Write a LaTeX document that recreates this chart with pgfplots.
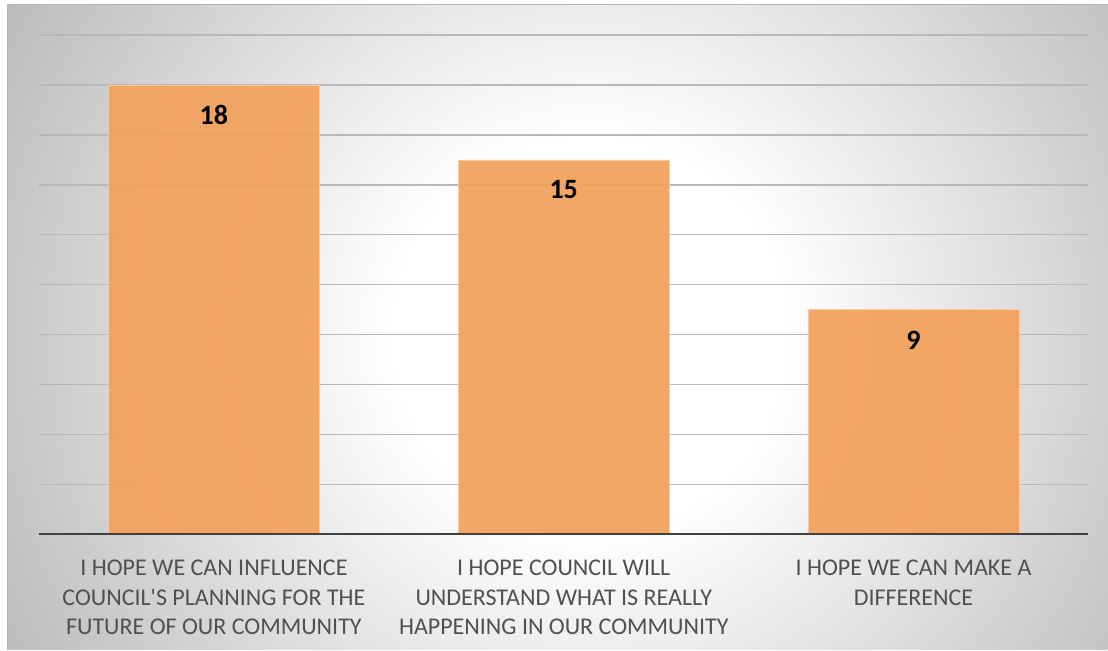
\documentclass[border=0pt]{standalone}
\usepackage{fontspec}
\setmainfont{Carlito}
\usepackage{pgfplots}
\pgfplotsset{compat=1.18}
\definecolor{barorange}{RGB}{243,161,92}
\definecolor{labelgray}{RGB}{80,80,80}
\pgfdeclareradialshading{bgshade}{\pgfpoint{0bp}{0bp}}{color(0bp)=(white); color(7bp)=(white); color(11.4bp)=(black!7); color(19.6bp)=(black!20); color(25bp)=(black!28); color(50bp)=(black!28)}
\begin{document}
\begin{tikzpicture}[x=1pt,y=1pt]
\path (0,0) rectangle (1108,650);
\begin{scope}
\clip (8,0) rectangle (1108,645);
\shade[shading=bgshade] (590,315) circle (700);
\end{scope}
\draw[black!30, line width=1pt] (8,0) -- (8,645) -- (1108,645);
\begin{axis}[
  at={(39pt,115pt)}, anchor=south west,
  scale only axis, width=1050pt, height=500pt,
  xmin=-0.5, xmax=2.5, ymin=0, ymax=20,
  ytick={0,2,...,20}, yticklabels={},
  ymajorgrids, major grid style={black!28, line width=1.2pt},
  axis line style={draw=none},
  major tick length=0pt,
  /pgf/number format/assume math mode=true,
  xtick={0,1,2},
  xticklabels={{I HOPE WE CAN INFLUENCE\\COUNCIL\textquotesingle S PLANNING FOR THE\\FUTURE OF OUR COMMUNITY},
               {I HOPE COUNCIL WILL\\UNDERSTAND WHAT IS REALLY\\HAPPENING IN OUR COMMUNITY},
               {I HOPE WE CAN MAKE A\\DIFFERENCE}},
  xticklabel style={anchor=north, align=center, inner sep=0pt, yshift=-25pt,
     text=labelgray, font=\fontsize{24}{29.5}\selectfont},
]
\addplot[ybar, bar width=211pt, bar shift=0pt, fill=barorange, fill opacity=0.93,
  draw=barorange!55!white, line width=0.8pt,
  nodes near coords,
  nodes near coords style={anchor=center, yshift=-30pt, text=black, text opacity=1,
     font=\bfseries\fontsize{28}{30}\selectfont}]
  coordinates {(0,18) (1,15) (2,9)};
\draw[black!75, line width=3pt] (axis cs:-0.5,0) -- (axis cs:2.5,0);
\end{axis}
\end{tikzpicture}
\end{document}
